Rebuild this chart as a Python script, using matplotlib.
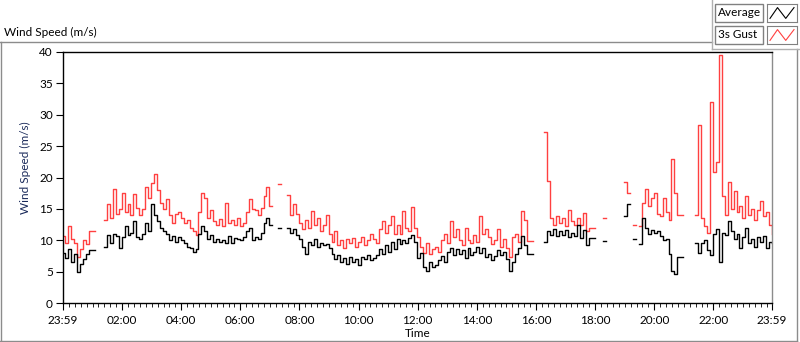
import numpy as np
import matplotlib.pyplot as plt
from matplotlib.lines import Line2D
from matplotlib.patches import Rectangle

nan = np.nan

# sample times, minutes after 23:59 of the previous day (6 min steps)
minutes = np.arange(0, 1441, 6)

# 10-min average wind speed (m/s), gaps are missing data
avg_speed = [
    8.0, 7.2, 8.6, 6.5, 7.8, 5.0, 6.2, 7.0, 7.8, 8.4, 8.4,
    nan, nan, nan,
    9.0, 10.8, 9.6, 11.0, 10.6, 8.8, 10.5, 12.3, 10.8, 11.2,
    13.0, 10.5, 10.2, 11.0, 12.8, 11.5, 15.8, 14.0, 13.0, 12.0,
    11.5, 11.0, 10.0, 10.6, 9.8, 10.5, 10.0, 9.5, 9.0, 8.8,
    8.1, 8.6, 11.0, 12.3, 11.5, 10.2, 10.8, 9.8, 10.2, 9.8,
    10.0, 9.6, 10.6, 9.5, 10.4, 10.2, 10.0, 10.5, 11.5, 12.0,
    10.0, 10.5, 10.2, 11.2, 12.8, 13.6, 12.4,
    nan, nan,
    12.0,
    nan, nan,
    12.0, 11.2, 11.8, 10.8, 10.2, 9.0, 7.8, 9.8, 9.2, 10.2,
    9.0, 9.6, 9.2, 9.4, 8.8, 7.8, 7.0, 7.6, 6.6, 7.2,
    6.2, 7.4, 6.5, 7.0, 6.0, 7.4, 7.0, 7.6, 6.8, 7.2,
    7.6, 8.6, 7.8, 9.2, 8.2, 9.8, 8.6, 10.2, 9.4, 10.0,
    9.6, 10.4, 10.8, 9.8, 7.2, 8.0, 5.8, 5.1, 6.5, 5.8,
    6.0, 6.8, 7.5, 6.5, 8.2, 8.8, 7.6, 8.6, 7.8, 8.4,
    7.2, 8.8, 7.6, 8.2, 9.0, 8.0, 8.8, 7.4, 7.8, 6.8,
    7.5, 8.4, 7.6, 8.2, 7.0, 5.1, 6.5, 7.8, 8.8, 10.7,
    9.2, 7.8, 7.8,
    nan, nan, nan, nan,
    9.8, 11.4, 10.8, 11.8, 10.6, 11.4, 10.8, 11.6, 10.5, 11.2,
    10.6, 12.5, 10.4, 11.6, 9.2, 10.4, 10.4,
    nan, nan, nan,
    9.9,
    nan, nan, nan, nan, nan, nan,
    13.9, 15.8,
    nan,
    10.2,
    nan,
    9.4, 13.5, 12.0, 11.0, 11.6, 11.2, 11.4, 10.6, 10.0, 10.2,
    7.8, 5.1, 4.7, 7.4, 7.4,
    nan, nan, nan, nan,
    9.6, 8.0, 9.5, 10.0, 8.5, 7.6, 11.0, 11.8, 6.5, 11.2,
    10.8, 13.0, 11.4, 10.2, 11.0, 8.8, 10.5, 12.0, 9.6, 10.2,
    9.0, 10.5, 9.8, 10.6, 8.8, 9.8, 9.5,
]

# 3 second gust (m/s)
gust_speed = [
    10.6, 9.6, 12.3, 10.2, 9.5, 7.4, 8.6, 10.0, 9.4, 11.5, 11.5,
    nan, nan, nan,
    13.2, 15.8, 13.5, 18.2, 14.2, 15.0, 17.6, 14.5, 15.8, 14.0,
    17.4, 15.2, 14.0, 15.0, 18.5, 16.8, 19.2, 20.6, 18.0, 16.0,
    15.0, 16.5, 14.0, 12.8, 14.2, 14.5, 13.5, 12.8, 13.2, 12.0,
    11.5, 10.9, 14.5, 17.5, 16.8, 13.5, 14.8, 13.0, 12.5, 13.4,
    12.2, 16.0, 12.8, 13.2, 12.5, 13.5, 12.2, 12.8, 14.5, 16.5,
    15.0, 14.8, 14.0, 15.2, 17.0, 18.5, 15.5,
    nan, nan,
    18.9,
    nan, nan,
    17.2, 14.0, 15.8, 14.2, 12.8, 11.8, 13.2, 12.0, 14.7, 12.5,
    13.5, 11.5, 12.5, 14.0, 11.0, 9.8, 11.5, 9.2, 10.0, 8.8,
    10.2, 9.5, 10.4, 9.0, 9.8, 10.5, 9.2, 10.0, 11.0, 10.2,
    9.5, 11.8, 13.0, 11.2, 12.5, 13.9, 11.0, 12.5, 11.0, 14.7,
    12.0, 11.5, 15.3, 12.0, 10.5, 9.0, 8.0, 9.5, 7.8, 8.6,
    9.0, 8.2, 10.0, 11.0, 9.5, 13.1, 10.5, 11.8, 10.0, 9.2,
    12.0, 10.0, 9.5, 10.8, 9.8, 13.9, 11.0, 11.8, 10.5, 9.4,
    10.0, 11.8, 9.0, 10.2, 8.8, 7.3, 10.5, 11.0, 9.8, 14.7,
    13.2, 9.9, 9.9,
    nan, nan, nan, nan,
    27.2, 19.5, 13.5, 12.5, 13.8, 12.8, 13.5, 12.2, 14.8, 13.0,
    12.5, 13.6, 12.4, 14.3, 11.4, 12.0, 12.0,
    nan, nan, nan,
    13.6,
    nan, nan, nan, nan, nan, nan,
    19.3, 17.5,
    nan,
    12.5,
    nan,
    12.2, 16.0, 18.2, 15.5, 16.8, 17.6, 14.2, 13.8, 16.8, 14.5,
    13.2, 23.0, 17.5, 14.1, 14.1,
    nan, nan, nan, nan,
    14.0, 28.3, 13.5, 12.2, 11.2, 32.0, 20.8, 22.4, 39.5, 17.0,
    14.0, 19.3, 15.0, 17.8, 14.5, 15.5, 13.5, 17.0, 14.0, 15.0,
    13.2, 14.8, 16.3, 13.8, 14.5, 12.5, 11.0,
]

tick_labels = ['23:59', '02:00', '04:00', '06:00', '08:00', '10:00', '12:00',
               '14:00', '16:00', '18:00', '20:00', '22:00', '23:59']
tick_minutes = [0] + [1 + 120 * k for k in range(1, 12)] + [1440]

plt.rcParams['font.family'] = ['Lato', 'DejaVu Sans']

W, H = 800, 342
fig = plt.figure(figsize=(W / 100, H / 100), dpi=100)

def fx(px):
    return px / W

def fy(py):
    return 1 - py / H

# outer panel frame
fig.add_artist(Line2D([fx(0), fx(712)], [fy(42), fy(42)], color='#8c8c8c', lw=1))
fig.add_artist(Line2D([fx(0.5), fx(0.5)], [fy(42), fy(341)], color='#8c8c8c', lw=1))
fig.add_artist(Line2D([fx(0), fx(797)], [fy(341), fy(341)], color='#8c8c8c', lw=1))
fig.add_artist(Line2D([fx(797), fx(797)], [fy(49), fy(341)], color='#8c8c8c', lw=1))
fig.add_artist(Line2D([fx(712), fx(712)], [fy(0), fy(49)], color='#b0b0b0', lw=1))
fig.add_artist(Line2D([fx(712), fx(800)], [fy(49), fy(49)], color='#b0b0b0', lw=1))

fig.text(fx(4), fy(32), 'Wind Speed (m/s)', fontsize=8.5, va='center', ha='left')

# legend boxes
for row, (name, col) in enumerate([('Average', 'black'), ('3s Gust', '#ff4040')]):
    top = 4 + row * 22
    fig.add_artist(Rectangle((fx(715), fy(top + 18)), fx(48), 18 / H,
                             fill=False, ec='#808080', lw=1))
    fig.text(fx(718), fy(top + 9), name, fontsize=8.5, va='center', ha='left')
    sax = fig.add_axes([fx(767), fy(top + 18), fx(30), 18 / H])
    sax.set_xlim(0, 4)
    sax.set_ylim(0, 4)
    sax.plot([0.4, 1.4, 2.5, 3.6], [0.8, 3.2, 0.8, 3.2], color=col, lw=0.8)
    sax.set_xticks([])
    sax.set_yticks([])
    for s in sax.spines.values():
        s.set_color('#808080')

ax = fig.add_axes([fx(62.5), fy(303), fx(772 - 62.5), (303 - 52) / H])
ax.plot(minutes, gust_speed, color='#ff4040', lw=1.0, drawstyle='steps-post')
ax.plot(minutes, avg_speed, color='black', lw=1.0, drawstyle='steps-post')

ax.set_xlim(0, 1440)
ax.set_ylim(0, 40)
ax.set_yticks(range(0, 41, 5))
ax.set_xticks(tick_minutes)
ax.set_xticklabels(tick_labels)
ax.set_xticks(np.arange(1, 1440, 12), minor=True)
ax.tick_params(axis='both', labelsize=8.5, direction='out', colors='black')
ax.tick_params(axis='y', length=5, pad=2)
ax.tick_params(axis='x', which='major', length=5, pad=4)
ax.tick_params(axis='x', which='minor', length=3)
for side in ['left', 'top', 'bottom']:
    ax.spines[side].set_color('black')
ax.spines['right'].set_color('#8c8c8c')
for s in ax.spines.values():
    s.set_linewidth(1)

ax.set_xlabel('Time', fontsize=8.5, labelpad=1)
ax.set_ylabel('Wind Speed (m/s)', fontsize=8.5, color='#1a2a5a')
ax.yaxis.set_label_coords(-0.044, 0.54)

fig.savefig('out.png', dpi=100)
